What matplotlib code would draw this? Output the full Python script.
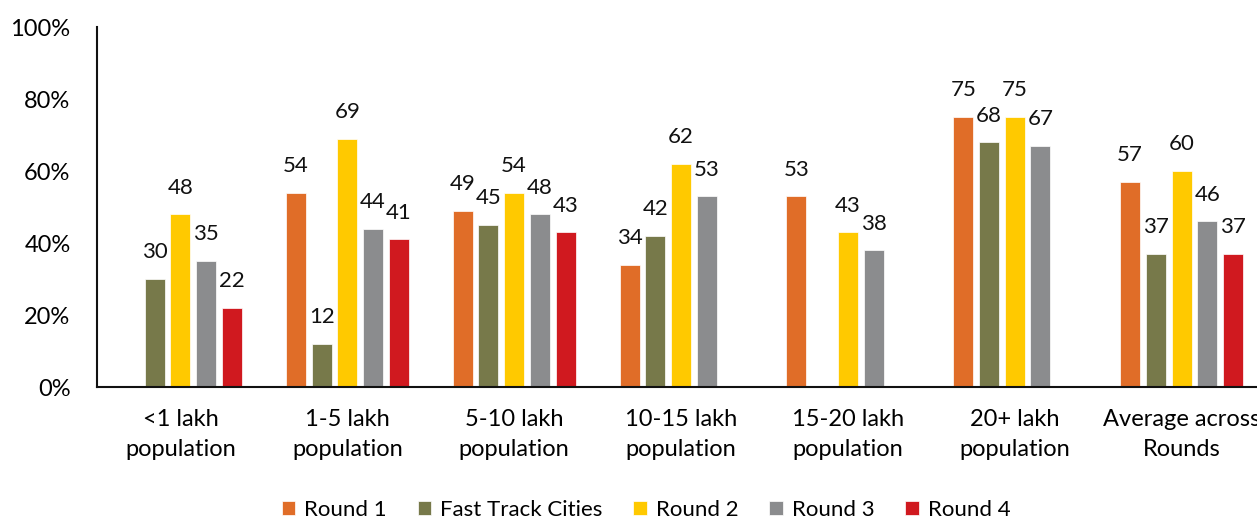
import numpy as np
import matplotlib.pyplot as plt

plt.rcParams['font.family'] = ['Lato', 'DejaVu Sans']

categories = ['<1 lakh\npopulation', '1-5 lakh\npopulation', '5-10 lakh\npopulation',
              '10-15 lakh\npopulation', '15-20 lakh\npopulation', '20+ lakh\npopulation',
              'Average across\nRounds']
series_names = ['Round 1', 'Fast Track Cities', 'Round 2', 'Round 3', 'Round 4']
round1 = [np.nan, 54, 49, 34, 53, 75, 57]
fast_track = [30, 12, 45, 42, np.nan, 68, 37]
round2 = [48, 69, 54, 62, 43, 75, 60]
round3 = [35, 44, 48, 53, 38, 67, 46]
round4 = [22, 41, 43, np.nan, np.nan, np.nan, 37]
colors = ['#E06D28', '#77794A', '#FFC900', '#8B8C8E', '#D0191F']

series = [round1, fast_track, round2, round3, round4]

fig = plt.figure(figsize=(12.57, 5.18), dpi=100)
ax = fig.add_axes([97/1257, 131/518, (1265-97)/1257, 360/518])

x = np.arange(len(categories))
step = 0.154
width = 0.12
for i, (vals, name, c) in enumerate(zip(series, series_names, colors)):
    pos = x + (i - 2) * step
    vals = np.array(vals, dtype=float)
    ax.bar(pos, vals, width=width, color=c, label=name, edgecolor='white', linewidth=0.5)
    for p, v in zip(pos, vals):
        if not np.isnan(v):
            ax.annotate(f'{int(v)}', (p, v), xytext=(0, 12), textcoords='offset points',
                        ha='center', va='bottom', fontsize=16, color='#111111')

ax.set_xlim(-0.5, len(categories) - 0.5)
ax.set_ylim(0, 100)
ax.set_yticks(range(0, 101, 20))
ax.set_yticklabels([f'{t}%' for t in range(0, 101, 20)], fontsize=17)
ax.set_xticks(x)
ax.set_xticklabels(categories, fontsize=17, linespacing=1.5)
ax.tick_params(axis='both', length=0)
ax.tick_params(axis='y', pad=19)
ax.tick_params(axis='x', pad=16)
for s in ['top', 'right']:
    ax.spines[s].set_visible(False)
for s in ['left', 'bottom']:
    ax.spines[s].set_linewidth(1.5)
    ax.spines[s].set_color('#111111')

fig.legend(loc='center', bbox_to_anchor=(646/1257, 8/518), ncol=5, frameon=False,
           fontsize=16, handlelength=0.6, handleheight=0.6, columnspacing=1.4,
           handletextpad=0.4)

fig.savefig('out.png', dpi=100)
